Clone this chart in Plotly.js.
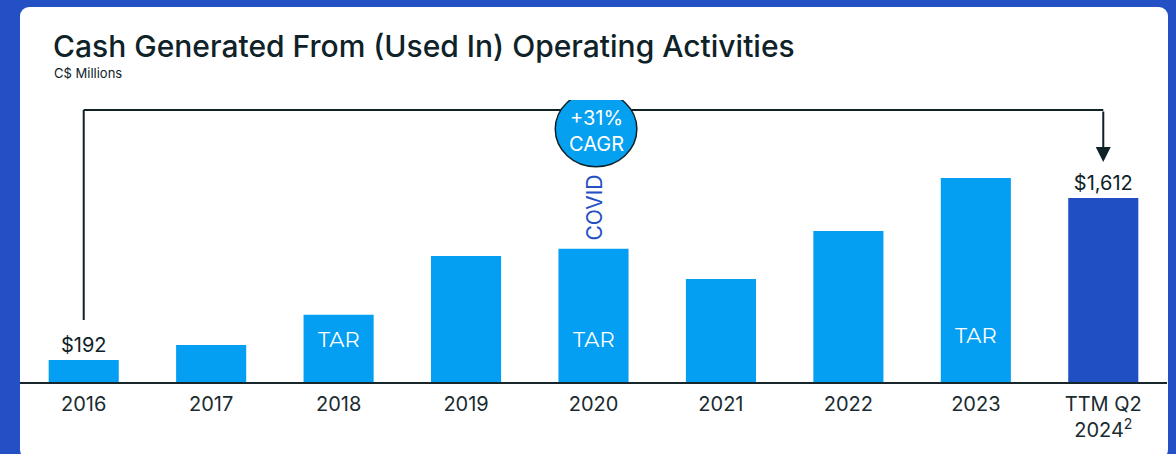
<!DOCTYPE html>
<html>
<head>
<meta charset="utf-8">
<script src="https://cdn.plot.ly/plotly-3.0.1.min.js"></script>
<style>
  html, body { margin: 0; padding: 0; background: #2350c4; width: 1176px; height: 454px; overflow: hidden; }
  #panel { position: absolute; left: 20px; top: 7px; width: 1148px; height: 452px; background: #ffffff; border-radius: 9px; }
  #chart { position: absolute; left: 0; top: 0; width: 1176px; height: 454px; }
</style>
</head>
<body>
<div id="panel"></div>
<div id="chart"></div>
<script>
// ---- data ----
const years = ['2016', '2017', '2018', '2019', '2020', '2021', '2022', '2023', 'TTM Q2 2024'];
const tickLabels = ['2016', '2017', '2018', '2019', '2020', '2021', '2022', '2023', 'TTM Q2<br>2024<sup>2</sup>'];
const cashFromOps = [192, 324, 590, 1104, 1168, 902, 1323, 1787, 1612];
const valueLabels = ['$192', '', '', '', '', '', '', '', '$1,612'];
const tarYears = ['2018', '2020', '2023'];
const covidYear = '2020';
const cagrText = '+31%<br>CAGR';

// ---- styles ----
const LIGHT = '#049ff3';
const DARK = '#1f4fc2';
const INK = '#0e2228';
const FONT = 'Inter, "Open Sans", sans-serif';
const barColors = years.map((y, i) => i === years.length - 1 ? DARK : LIGHT);

const idx = y => years.indexOf(y);
const lastIdx = years.length - 1;
const bracketY = 2383;

const annotations = [];
// subtitle
annotations.push({
  xref: 'paper', yref: 'paper', x: 0.0275, y: 1.096, xanchor: 'left', yanchor: 'middle',
  text: 'C$ Millions', showarrow: false, font: { family: FONT, size: 13, color: INK }
});
// TAR labels
tarYears.forEach(y => {
  const i = idx(y);
  annotations.push({
    x: i, y: y === '2023' ? 403 : 368, xref: 'x', yref: 'y', text: 'TAR', showarrow: false,
    font: { family: 'Montserrat, ' + FONT, size: 21, color: '#ffffff' }
  });
});
// COVID label
annotations.push({
  x: idx(covidYear), y: 1524, xref: 'x', yref: 'y', text: 'COVID', textangle: -90, showarrow: false,
  font: { family: FONT, size: 21, color: '#2350c4' }
});
// CAGR text
annotations.push({
  x: idx(covidYear) + 0.02, y: 2195, xref: 'x', yref: 'y', text: cagrText, showarrow: false,
  font: { family: FONT, size: 20, color: '#ffffff' }
});
// arrow down to last bar
annotations.push({
  x: lastIdx, y: 1927, xref: 'x', yref: 'y', ax: lastIdx, ay: bracketY, axref: 'x', ayref: 'y',
  text: '', showarrow: true, arrowhead: 2, arrowsize: 1.5, arrowwidth: 2, arrowcolor: INK, standoff: 0
});

const shapes = [
  { type: 'line', xref: 'x', yref: 'y', x0: 0, x1: 0, y0: 543, y1: bracketY, line: { color: INK, width: 2 } },
  { type: 'line', xref: 'x', yref: 'y', x0: 0, x1: lastIdx, y0: bracketY, y1: bracketY, line: { color: INK, width: 2 } },
  { type: 'circle', xref: 'x', yref: 'y', x0: idx(covidYear) - 0.3, x1: idx(covidYear) + 0.34, y0: 2215 - 330, y1: 2215 + 330,
    fillcolor: '#06a0f0', line: { color: INK, width: 1.5 } }
];

const trace = {
  type: 'bar',
  x: years,
  y: cashFromOps,
  text: valueLabels,
  textposition: 'outside',
  cliponaxis: false,
  textfont: { family: FONT, size: 20, color: INK },
  marker: { color: barColors, line: { width: 0 } },
  width: 0.55,
  hoverinfo: 'skip'
};

const layout = {
  width: 1176, height: 454,
  margin: { l: 20, r: 9, t: 100, b: 72 },
  paper_bgcolor: 'rgba(0,0,0,0)',
  plot_bgcolor: 'rgba(0,0,0,0)',
  showlegend: false,
  title: {
    text: 'Cash Generated From (Used In) Operating Activities',
    xref: 'container', yref: 'container', x: 0.0451, xanchor: 'left', y: 0.898, yanchor: 'middle',
    font: { family: FONT, size: 30, weight: 500, color: INK }
  },
  xaxis: {
    type: 'category', tickvals: years, ticktext: tickLabels, range: [-0.5, 8.5],
    showline: true, linecolor: '#17262b', linewidth: 2, ticks: '', showgrid: false, zeroline: false,
    ticklabelstandoff: 3,
    tickfont: { family: FONT, size: 20, color: '#1a2b30' }, fixedrange: true
  },
  yaxis: {
    range: [0, 2470], visible: false, showgrid: false, zeroline: false, fixedrange: true
  },
  shapes: shapes,
  annotations: annotations
};

Plotly.newPlot('chart', [trace], layout, { displayModeBar: false, staticPlot: true });
</script>
</body>
</html>
